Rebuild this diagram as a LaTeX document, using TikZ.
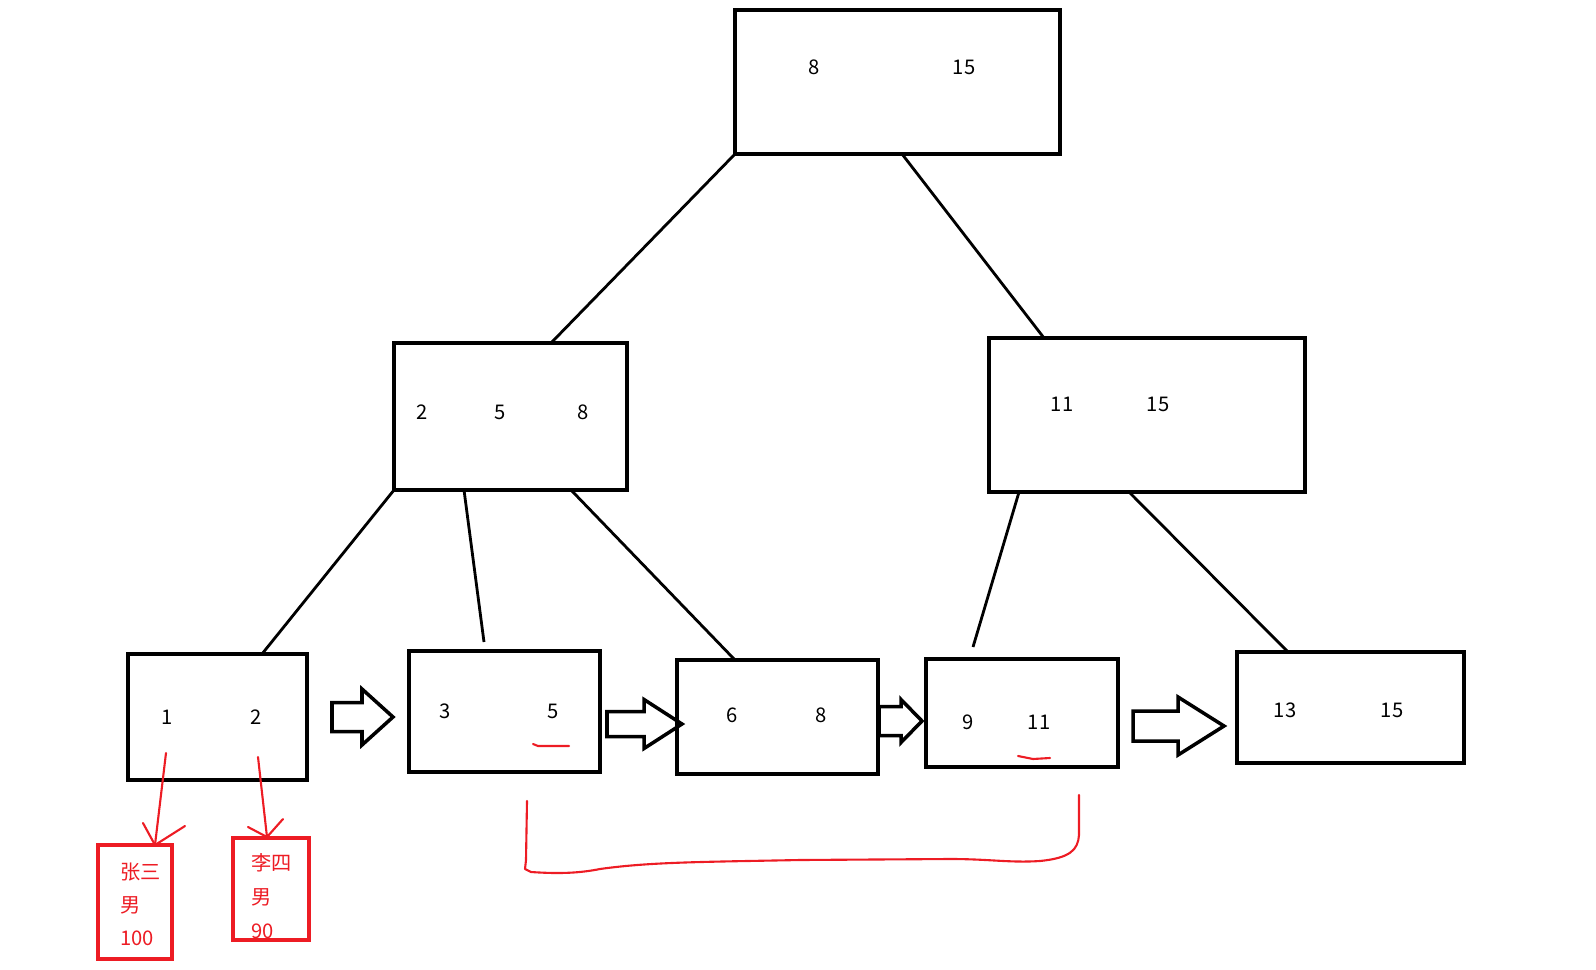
\documentclass[tikz,border=0pt]{standalone}
\usepackage{fontspec}
\setmainfont{Noto Sans CJK SC}
\usetikzlibrary{arrows.meta,positioning}
\definecolor{paintred}{RGB}{237,28,36}

\begin{document}
\begin{tikzpicture}[x=0.02cm,y=-0.02cm,
 box/.style={draw,line width=2pt,inner sep=0pt,outer sep=0pt},
 num/.style={font=\fontsize{11.5}{13}\selectfont},
 redbox/.style={draw=paintred,line width=2.4pt,inner sep=0pt,outer sep=0pt},
 redtxt/.style={text=paintred,anchor=west,inner sep=0pt,font=\fontsize{11.5}{13}\selectfont},
 link/.style={line width=1.6pt},
 redline/.style={paintred,line width=1.2pt,line cap=round,line join=round},
 blockarrow/.style={draw,line width=2pt,line join=miter}]
\useasboundingbox (0,0) rectangle (1596,970);
\node[box,minimum width=6.5cm,minimum height=2.88cm] (root) at (897.5,82) {};
\node[box,minimum width=4.66cm,minimum height=2.94cm] (ml) at (510.5,416.5) {};
\node[box,minimum width=6.32cm,minimum height=3.08cm] (mr) at (1147,415) {};
\node[box,minimum width=3.58cm,minimum height=2.52cm] (leafa) at (217.5,717) {};
\node[box,minimum width=3.82cm,minimum height=2.42cm] (leafb) at (504.5,711.5) {};
\node[box,minimum width=4.02cm,minimum height=2.28cm] (leafc) at (777.5,717) {};
\node[box,minimum width=3.84cm,minimum height=2.16cm] (leafd) at (1022,713) {};
\node[box,minimum width=4.54cm,minimum height=2.22cm] (leafe) at (1350.5,707.5) {};
\foreach \x/\y/\lab in {814/67/8,964/67/15,422/412/2,500/412/5,583/412/8,1062/404/11,1158/404/15,
 167/717/1,256/717/2,445/711/3,553/711/5,732/715/6,821/715/8,968/722/9,1039/722/11,1285/710/13,1392/710/15}
 \node[num] at (\x,\y) {\lab};
\draw[link] (root.south west)--([xshift=3.14cm]ml.north west);
\draw[link] ([xshift=3.34cm]root.south west)--([xshift=1.1cm]mr.north west);
\draw[link] (ml.south west)--([xshift=2.68cm]leafa.north west);
\draw[link] ([xshift=1.4cm]ml.south west)--([xshift=1.5cm,yshift=0.18cm]leafb.north west);
\draw[link] ([xshift=3.54cm]ml.south west)--([xshift=1.16cm]leafc.north west);
\draw[link] ([xshift=0.6cm]mr.south west)--([xshift=0.94cm,yshift=0.24cm]leafd.north west);
\draw[link] ([xshift=2.8cm]mr.south west)--([xshift=1.02cm]leafe.north west);
\foreach \a/\b/\c/\y/\s/\h in {332/362/393/717/14.5/28,607/644/682/724/12.5/24.5,879/901/922/721/14.5/21.5,1133/1178/1224/726/15/29}
 \draw[blockarrow] (\a,\y-\s)--(\b,\y-\s)--(\b,\y-\h)--(\c,\y)--(\b,\y+\h)--(\b,\y+\s)--(\a,\y+\s)--cycle;
\node[redbox,minimum width=1.48cm,minimum height=2.28cm] (reca) at (135,902) {};
\node[redbox,minimum width=1.52cm,minimum height=2.04cm] (recb) at (271,889) {};
\node[redtxt] at (120,872) {张三};
\node[redtxt] at (120,905) {男};
\node[redtxt] at (120,938) {100};
\node[redtxt] at (251,863) {李四};
\node[redtxt] at (251,897) {男};
\node[redtxt] at (251,931) {90};
\coordinate (fromone) at (166,753);
\coordinate (fromtwo) at (258,757);
\draw[redline] (fromone)--([xshift=0.4cm]reca.north);
\draw[redline] ([xshift=0.16cm,yshift=0.44cm]reca.north)--([xshift=0.4cm]reca.north)--([xshift=1cm,yshift=0.38cm]reca.north);
\draw[redline] (fromtwo)--([xshift=-0.08cm,yshift=0.02cm]recb.north);
\draw[redline] ([xshift=-0.46cm,yshift=0.22cm]recb.north)--([xshift=-0.08cm,yshift=0.02cm]recb.north)--([xshift=0.24cm,yshift=0.38cm]recb.north);
\draw[redline] (533,744)--(538,746)--(569,746);
\draw[redline] (1018,756)--(1033,759)--(1050,758);
\draw[redline] (527,801)--(526,860)--(525,869)--(531,872) .. controls (560,874) and (580,873) .. (600,869)
 .. controls (650,862) and (700,862) .. (800,860)--(950,859) .. controls (990,859) and (1010,863) .. (1040,861)
 .. controls (1070,858) and (1078,850) .. (1079,835)--(1079,795);
\end{tikzpicture}
\end{document}
